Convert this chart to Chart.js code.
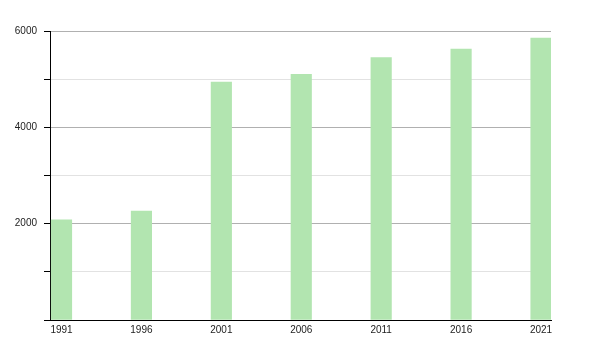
<!DOCTYPE html>
<html>
<head>
<meta charset="utf-8">
<script src="https://cdn.jsdelivr.net/npm/chart.js@4/dist/chart.umd.min.js"></script>
<style>
  html, body { margin: 0; padding: 0; background: #fff; }
  #wrap { width: 600px; height: 350px; }
</style>
</head>
<body>
<div id="wrap"><canvas id="c" width="600" height="350"></canvas></div>
<script>
const years = [1991, 1996, 2001, 2006, 2011, 2016, 2021];
const population = [2080, 2260, 4940, 5100, 5450, 5625, 5855];
const yLabelValues = [2000, 4000, 6000];

const points = years.map((y, i) => ({ x: y, y: population[i] }));
const tickFont = { family: '"Liberation Sans", Arial, sans-serif', size: 10 };

new Chart(document.getElementById('c'), {
  type: 'bar',
  data: {
    datasets: [{
      data: points,
      backgroundColor: 'rgb(178,229,176)',
      borderWidth: 0,
      barThickness: 20.5
    }]
  },
  options: {
    responsive: false,
    animation: false,
    layout: { padding: { left: 0, right: 49, top: 31, bottom: 0 } },
    plugins: { legend: { display: false }, tooltip: { enabled: false } },
    scales: {
      x: {
        type: 'linear',
        offset: false,
        min: 1990.28,
        max: 2021.625,
        afterBuildTicks: s => { s.ticks = years.map(v => ({ value: v })); },
        afterFit: s => { s.height = 30; },
        grid: { display: false, drawTicks: false },
        border: { color: '#000', width: 1 },
        ticks: {
          padding: 4,
          color: '#222',
          font: tickFont,
          callback: v => String(v),
          maxRotation: 0,
          autoSkip: false
        }
      },
      y: {
        min: 0,
        max: 6000,
        afterFit: s => { s.width = 50; },
        border: { color: '#000', width: 1 },
        grid: {
          color: ctx => (ctx.tick && ctx.tick.value % 2000 === 0) ? '#b0b0b0' : '#e2e2e2',
          tickColor: '#000',
          tickLength: 6
        },
        ticks: {
          stepSize: 1000,
          padding: 7,
          color: '#222',
          font: tickFont,
          callback: v => yLabelValues.includes(v) ? String(v) : ''
        }
      }
    }
  }
});
</script>
</body>
</html>
